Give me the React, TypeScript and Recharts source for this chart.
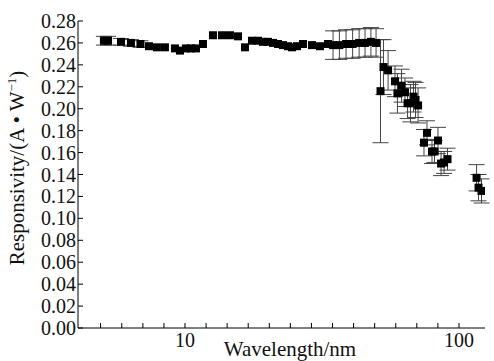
import React from "react";
import { ScatterChart, Scatter, XAxis, YAxis, ZAxis, ErrorBar } from "recharts";

const FONT = "'Liberation Serif', 'Times New Roman', serif";

// wavelength in nm
const wavelength = [
  5.06, 5.24, 5.84, 6.35, 6.88, 7.39, 7.9, 8.45, 9.19, 9.59, 10.08, 10.52, 10.97,
  11.63, 12.65, 13.65, 14.59, 15.61, 16.56, 17.56, 18.47, 19.26, 20.09, 20.96,
  21.85, 22.79, 23.76, 24.58, 25.63, 26.96, 29.07, 31.1, 33.26, 34.7, 36.6, 38.7,
  40.9, 43.2, 45.4, 47.7, 49.8, 51.7, 53.0, 55.1, 58.4, 59.6, 61.7, 63.5, 64.9,
  66.5, 68.2, 69.4, 70.9, 74.5, 76.4, 79.7, 81.4, 83.8, 86.0, 88.2, 90.8, 115.9,
  117.8, 120.8,
];

// responsivity in A/W
const responsivity = [
  0.262, 0.262, 0.261, 0.26, 0.259, 0.257, 0.256, 0.256, 0.255, 0.253, 0.255,
  0.255, 0.255, 0.259, 0.267, 0.267, 0.267, 0.266, 0.256, 0.262, 0.262, 0.261,
  0.261, 0.26, 0.259, 0.258, 0.257, 0.256, 0.257, 0.259, 0.258, 0.257, 0.259,
  0.258, 0.258, 0.259, 0.259, 0.26, 0.26, 0.261, 0.26, 0.216, 0.238, 0.235, 0.225,
  0.214, 0.221, 0.215, 0.205, 0.205, 0.211, 0.208, 0.203, 0.169, 0.178, 0.161,
  0.161, 0.171, 0.15, 0.151, 0.154, 0.137, 0.128, 0.125,
];

// half-length of the error bars
const uncertainty = [
  0.004, 0.004, 0.003, 0.003, 0.003, 0, 0, 0, 0, 0, 0, 0, 0, 0, 0, 0, 0, 0, 0, 0,
  0, 0, 0, 0, 0, 0, 0, 0, 0, 0, 0, 0, 0, 0.013, 0.013, 0.013, 0.013, 0.013, 0.013,
  0.013, 0.013, 0.047, 0.025, 0.018, 0.014, 0.018, 0.015, 0.013, 0.014, 0.017,
  0.014, 0.016, 0.016, 0.012, 0.011, 0.011, 0.01, 0.012, 0.011, 0.01, 0.01, 0.012,
  0.012, 0.011,
];

const xTicks = [
  4.92, 5.88, 7.02, 8.38, 10, 11.94, 14.25, 17.01, 20.31, 24.24, 28.94, 34.54,
  41.24, 49.22, 58.76, 70.14, 83.73, 100,
];
const xLabels = [10, 100];
const yTicks = [0, 0.02, 0.04, 0.06, 0.08, 0.1, 0.12, 0.14, 0.16, 0.18, 0.2, 0.22, 0.24, 0.26, 0.28];

const data = wavelength.map((w, i) => ({ w, r: responsivity[i], err: uncertainty[i] }));

const AXIS_X = 78;
const AXIS_Y = 328;

// inward tick marks, labels outside
function XTick({ x, payload }: any) {
  const v = payload.value;
  return (
    <g>
      <line x1={x} x2={x} y1={AXIS_Y} y2={AXIS_Y - 5} stroke="#000" />
      {xLabels.includes(v) && (
        <text x={x} y={AXIS_Y + 19} textAnchor="middle" fontSize={20} fontFamily={FONT} fill="#111">
          {v}
        </text>
      )}
    </g>
  );
}

function YTick({ y, payload }: any) {
  return (
    <g>
      <line x1={AXIS_X} x2={AXIS_X + 5} y1={y} y2={y} stroke="#000" />
      <text x={AXIS_X - 2} y={y + 7} textAnchor="end" fontSize={20} fontFamily={FONT} fill="#111">
        {payload.value.toFixed(2)}
      </text>
    </g>
  );
}

function XTitle() {
  return (
    <text x={290} y={356} textAnchor="middle" fontSize={21} fontFamily={FONT} fill="#111">
      Wavelength/nm
    </text>
  );
}

function YTitle() {
  return (
    <text
      x={24}
      y={168}
      transform="rotate(-90 24 168)"
      textAnchor="middle"
      fontSize={21}
      fontFamily={FONT}
      fill="#111"
    >
      Responsivity/(A • W
      <tspan dy={-8} fontSize={13}>
        −1
      </tspan>
      <tspan dy={8}>)</tspan>
    </text>
  );
}

export default function App() {
  return (
    <div style={{ position: "absolute", left: 0, top: 0, background: "#fff" }}>
      <ScatterChart width={494} height={361} margin={{ top: 21, right: 9, bottom: 0, left: 0 }}>
        <XAxis
          type="number"
          dataKey="w"
          scale="log"
          domain={[4.07, 124.4]}
          allowDataOverflow
          ticks={xTicks}
          interval={0}
          tickLine={false}
          tick={<XTick />}
          height={33}
          stroke="#000"
          label={{ content: () => <XTitle /> }}
        />
        <YAxis
          type="number"
          dataKey="r"
          domain={[0, 0.28]}
          ticks={yTicks}
          interval={0}
          tickLine={false}
          tick={<YTick />}
          width={78}
          stroke="#000"
          label={{ content: () => <YTitle /> }}
        />
        <ZAxis range={[52, 52]} />
        <Scatter data={data} fill="#000" shape="square" isAnimationActive={false}>
          <ErrorBar dataKey="err" direction="y" width={8} stroke="#444" strokeWidth={1} />
        </Scatter>
      </ScatterChart>
    </div>
  );
}
